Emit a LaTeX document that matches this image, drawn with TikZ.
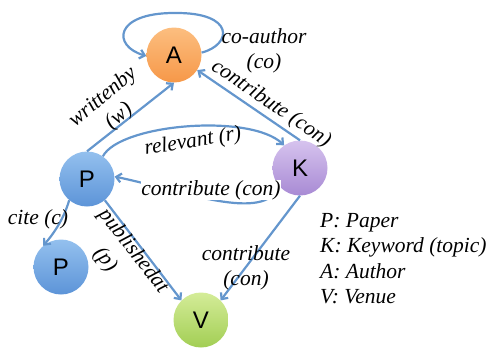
\documentclass[tikz,border=0pt]{standalone}
\usepackage{fontspec}
\setmainfont{Liberation Serif}
\newfontfamily\letterfont{Liberation Sans}
\usetikzlibrary{arrows.meta}
\definecolor{edgeblue}{RGB}{100,150,205}
\definecolor{aTop}{RGB}{252,190,128}
\definecolor{aBot}{RGB}{246,152,72}
\definecolor{pTop}{RGB}{148,192,238}
\definecolor{pBot}{RGB}{92,148,216}
\definecolor{kTop}{RGB}{214,195,238}
\definecolor{kBot}{RGB}{168,138,212}
\definecolor{vTop}{RGB}{212,236,152}
\definecolor{vBot}{RGB}{162,206,84}
\tikzset{
  entity/.style={circle, minimum size=55pt, inner sep=0pt, font=\letterfont\fontsize{24}{24}\selectfont},
  rel/.style={draw=edgeblue, line width=2.2pt, -{Straight Barb[length=5pt,width=9pt]}},
  lbl/.style={inner sep=0pt, align=center, font=\itshape\fontsize{21.5}{25}\selectfont},
  legend/.style={inner sep=0pt, anchor=base west, font=\itshape\fontsize{21.5}{25}\selectfont}
}
\begin{document}
\begin{tikzpicture}[x=1pt,y=-1pt]
\useasboundingbox (0,0) rectangle (492,354);
% nodes
\node[entity, top color=aTop, bottom color=aBot] (A) at (174,55) {A};
\node[entity, top color=kTop, bottom color=kBot] (K) at (300,168) {K};
\node[entity, top color=pTop, bottom color=pBot] (P) at (87,179) {P};
\node[entity, top color=pTop, bottom color=pBot] (P2) at (61,267) {P};
\node[entity, top color=vTop, bottom color=vBot] (V) at (201,320) {V};
% edges
\draw[rel] (A.5) .. controls (232,45) and (236,12) .. (174,13) .. controls (114,13) and (112,46) .. (A.182);
\draw[rel] (P.north) -- (A.south);
\draw[rel] (K.north) -- (A.-33);
\draw[rel] (P.55) .. controls (120,124) and (250,113) .. (K.125);
\draw[rel] (K.-140) .. controls (266,224) and (180,190) .. (P.5);
\draw[rel] (P.-130) .. controls (64,218) and (55,232) .. (P2.130);
\draw[rel] (P.-50) -- (V.135);
\draw[rel] (K.-90) -- (V.45);
% labels
\node[lbl] (lco) at (264,50.5) {co-author\\(co)};
\node[lbl, rotate=40] (lw) at (111,107) {writtenby\\(w)};
\node[lbl, rotate=-34] (lka) at (271,104) {contribute (con)};
\node[lbl, rotate=9] (lr) at (193,142) {relevant (r)};
\node[lbl, fill=white] (lkp) at (211,190) {contribute (con)};
\node[lbl] (lc) at (38,219) {cite (c)};
\node[lbl, rotate=-52] (lp1) at (133,251) {publishedat};
\node[lbl, rotate=-52] (lp2) at (105,260) {(p)};
\node[lbl] (lkv) at (246,267.5) {contribute\\(con)};
% legend
\node[legend] (g1) at (320,227) {P: Paper};
\node[legend] (g2) at (320,252) {K: Keyword (topic)};
\node[legend] (g3) at (320,278) {A: Author};
\node[legend] (g4) at (320,303) {V: Venue};
\end{tikzpicture}
\end{document}
